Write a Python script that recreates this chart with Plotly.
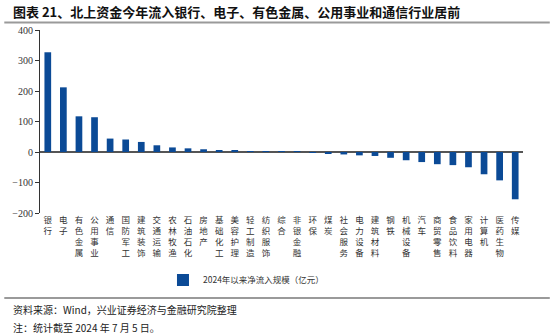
import plotly.graph_objects as go

categories = ["银行", "电子", "有色金属", "公用事业", "通信", "国防军工", "建筑装饰", "交通运输",
              "农林牧渔", "石油石化", "房地产", "基础化工", "美容护理", "轻工制造", "纺织服饰", "综合",
              "非银金融", "环保", "煤炭", "社会服务", "电力设备", "建筑材料", "钢铁", "机械设备",
              "汽车", "商贸零售", "食品饮料", "家用电器", "计算机", "医药生物", "传媒"]
values = [327, 212, 117, 114, 44, 41, 33, 22, 15, 12, 9, 6, 4, 2, 1.5, 1, 0.5, -1,
          -4, -8, -11, -13, -19, -27, -33, -40, -43, -50, -73, -93, -155]
series_name = "2024年以来净流入规模（亿元）"
y_ticks = [400, 300, 200, 100, 0, -100, -200]

title_text = "图表 21、北上资金今年流入银行、电子、有色金属、公用事业和通信行业居前"
source_text = "资料来源：Wind，兴业证券经济与金融研究院整理"
note_text = "注：统计截至 2024 年 7 月 5 日。"

W, H = 550, 336
L, R, T, B = 36, 27, 30, 123
PW, PH = W - L - R, H - T - B

def px(x):
    return (x - L) / PW

def py(y):
    return (H - B - y) / PH

FONT = "Liberation Serif, Noto Sans CJK SC, serif"
CJK = "Noto Sans CJK SC, sans-serif"
BAR = "#0B4A96"

tick_text = ["<br>".join(list(c)) for c in categories]

fig = go.Figure()
fig.add_trace(go.Bar(x=categories, y=values, name=series_name, marker_color=BAR,
                     marker_line_width=0, showlegend=True))

fig.update_layout(
    width=W, height=H,
    margin=dict(l=L, r=R, t=T, b=B, pad=0),
    paper_bgcolor="white", plot_bgcolor="white",
    bargap=0.57,
    font=dict(family=FONT, size=10, color="#222"),
    xaxis=dict(tickmode="array", tickvals=categories, ticktext=tick_text,
               tickangle=0, showgrid=False, showline=False, zeroline=False,
               ticks="", tickfont=dict(family=CJK, size=8.5, color="#333")),
    yaxis=dict(range=[-200, 400], tickvals=y_ticks, showgrid=False,
               showline=True, linecolor="#333", linewidth=1,
               ticks="outside", ticklen=4, tickcolor="#333",
               zeroline=True, zerolinecolor="#555", zerolinewidth=1.5,
               tickfont=dict(family="Liberation Serif, serif", size=10, color="#333")),
    legend=dict(orientation="h", x=px(160), xanchor="left", y=py(280), yanchor="middle",
                font=dict(family=CJK, size=8.5, color="#333"), itemwidth=30,
                bgcolor="rgba(0,0,0,0)"),
    shapes=[
        dict(type="line", xref="paper", yref="paper", x0=px(0), x1=px(W), y0=py(22.5), y1=py(22.5),
             line=dict(color="#9a9a9a", width=2)),
        dict(type="line", xref="paper", yref="paper", x0=px(0), x1=px(W), y0=py(298), y1=py(298),
             line=dict(color="#9a9a9a", width=2)),
    ],
    annotations=[
        dict(text="<b>" + title_text + "</b>", xref="paper", yref="paper", x=px(7), y=py(11),
             xanchor="left", yanchor="middle", showarrow=False,
             font=dict(family=CJK, size=13, color="#111")),
        dict(text=source_text, xref="paper", yref="paper", x=px(7), y=py(309),
             xanchor="left", yanchor="middle", showarrow=False,
             font=dict(family=CJK, size=10, color="#222")),
        dict(text=note_text, xref="paper", yref="paper", x=px(7), y=py(327),
             xanchor="left", yanchor="middle", showarrow=False,
             font=dict(family=CJK, size=10, color="#222")),
    ],
)

fig.write_html("out.html")
